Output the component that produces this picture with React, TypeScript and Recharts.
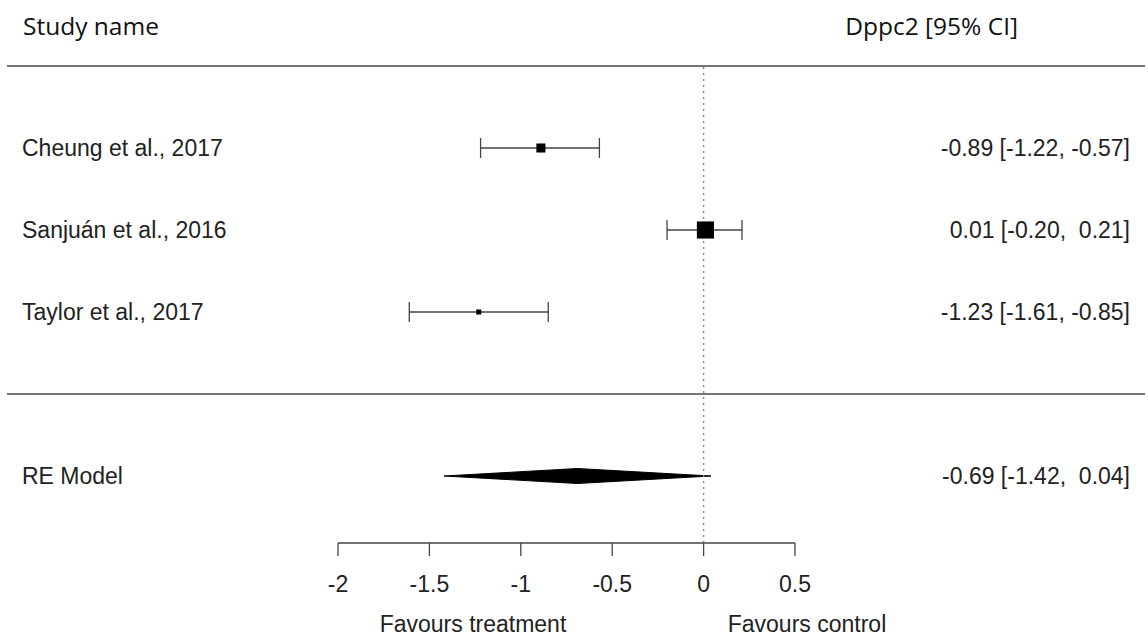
import { ComposedChart, XAxis, YAxis, Scatter, ErrorBar, Area, ReferenceLine } from "recharts";

// study rows
const studies = ["Cheung et al., 2017", "Sanjuán et al., 2016", "Taylor et al., 2017"];
const estimates = [-0.89, 0.01, -1.23];
const lower = [-1.22, -0.2, -1.61];
const upper = [-0.57, 0.21, -0.85];
const weights = [20.5, 73.2, 6.3]; // % weight, drives square size

// pooled estimate
const summaryName = "RE Model";
const summaryEst = -0.69;
const summaryLower = -1.42;
const summaryUpper = 0.04;

const xTicks = [-2, -1.5, -1, -0.5, 0, 0.5];

const FONT = '"Liberation Sans", Arial, sans-serif';
const HEAD_FONT = '"Open Sans", "Noto Sans", sans-serif';
const INK = "#222";

// layout
const W = 1148;
const H = 642;
const PLOT_TOP = 66;
const PLOT_BOTTOM = 543;
const PLOT_LEFT = 7;
const PLOT_RIGHT = 1145;
const ROW_PX = 82;
const AXIS_LEFT_PX = 338;
const AXIS_RIGHT_PX = 795;

const topRow = studies.length + 3;
const sepRow = 2;
const summaryRow = 1;
const Y_MIN = topRow - (PLOT_BOTTOM - PLOT_TOP) / ROW_PX;

const pxPerUnit = (AXIS_RIGHT_PX - AXIS_LEFT_PX) / (xTicks[xTicks.length - 1] - xTicks[0]);
const X_MIN = xTicks[0] - (AXIS_LEFT_PX - PLOT_LEFT) / pxPerUnit;
const X_MAX = xTicks[xTicks.length - 1] + (PLOT_RIGHT - AXIS_RIGHT_PX) / pxPerUnit;

const DIAMOND_HALF = 7.5 / ROW_PX;

const fmt = (v: number, pad = false) => (pad && v >= 0 ? " " : "") + v.toFixed(2);
const ciText = (e: number, l: number, u: number) => `${fmt(e)} [${fmt(l, true)}, ${fmt(u, true)}]`;

const points = studies.map((name, i) => ({
  x: estimates[i],
  y: studies.length + 2 - i,
  lo: estimates[i] - lower[i],
  hi: upper[i] - estimates[i],
  w: weights[i],
}));

const diamond = [
  { x: summaryLower, band: [summaryRow, summaryRow] },
  { x: summaryEst, band: [summaryRow - DIAMOND_HALF, summaryRow + DIAMOND_HALF] },
  { x: summaryUpper, band: [summaryRow, summaryRow] },
];

const rowTicks = [...points.map((p) => p.y), summaryRow];
const nameByRow: Record<number, string> = { [summaryRow]: summaryName };
const ciByRow: Record<number, string> = { [summaryRow]: ciText(summaryEst, summaryLower, summaryUpper) };
points.forEach((p, i) => {
  nameByRow[p.y] = studies[i];
  ciByRow[p.y] = ciText(estimates[i], lower[i], upper[i]);
});

function NameTick(props: any) {
  const { x, y, payload } = props;
  return (
    <text x={x} y={y} dy="0.355em" textAnchor="start" fill={INK} fontSize={23} fontFamily={FONT}>
      {nameByRow[payload.value]}
    </text>
  );
}

function CiTick(props: any) {
  const { x, y, payload } = props;
  return (
    <text x={x} y={y} dy="0.355em" textAnchor="end" fill={INK} fontSize={23} fontFamily={FONT} style={{ whiteSpace: "pre" }}>
      {ciByRow[payload.value]}
    </text>
  );
}

function Square(props: any) {
  const { cx, cy, payload } = props;
  const s = 2 * Math.sqrt(payload.w);
  return <rect x={cx - s / 2} y={cy - s / 2} width={s} height={s} fill="#000" />;
}

function Headers(props: any) {
  const { x, y, width } = props.viewBox;
  return (
    <g fontFamily={HEAD_FONT} fontSize={24.5} fill="#111">
      <text x={x + 16} y={y - 31}>Study name</text>
      <text x={x + width - 127} y={y - 31} textAnchor="end">Dppc2 [95% CI]</text>
    </g>
  );
}

function Favours(props: any) {
  const { x, y } = props.viewBox;
  return (
    <g fontFamily={FONT} fontSize={23} fill={INK} textAnchor="middle">
      <text x={x + 135} y={y + 89}>Favours treatment</text>
      <text x={x + 469} y={y + 89}>Favours control</text>
    </g>
  );
}

export default function App() {
  return (
    <div style={{ position: "fixed", left: 0, top: 0, width: W, height: H, background: "#fff" }}>
      <ComposedChart
        width={W}
        height={H}
        data={diamond}
        margin={{ top: PLOT_TOP, right: W - PLOT_RIGHT, bottom: 39, left: PLOT_LEFT }}
      >
        <XAxis
          type="number"
          dataKey="x"
          domain={[X_MIN, X_MAX]}
          allowDataOverflow
          ticks={xTicks}
          height={H - PLOT_BOTTOM - 39}
          axisLine={false}
          tickSize={13}
          tickMargin={20}
          tickLine={{ stroke: "#444", strokeWidth: 1.3 }}
          tick={{ fill: INK, fontSize: 23, fontFamily: FONT }}
        />
        <YAxis
          yAxisId="left"
          type="number"
          domain={[Y_MIN, topRow]}
          allowDataOverflow
          ticks={rowTicks}
          mirror
          axisLine={false}
          tickLine={false}
          tickSize={0}
          tickMargin={15}
          tick={<NameTick />}
        />
        <YAxis
          yAxisId="right"
          orientation="right"
          type="number"
          domain={[Y_MIN, topRow]}
          allowDataOverflow
          ticks={rowTicks}
          mirror
          axisLine={false}
          tickLine={false}
          tickSize={0}
          tickMargin={15}
          tick={<CiTick />}
        />

        <ReferenceLine yAxisId="left" y={topRow} stroke="#777" strokeWidth={2} label={(p: any) => <Headers {...p} />} />
        <ReferenceLine yAxisId="left" y={sepRow} stroke="#777" strokeWidth={2} />
        <ReferenceLine yAxisId="left" x={0} stroke="#8a8a8a" strokeWidth={1.5} strokeDasharray="2 4" />
        <ReferenceLine
          yAxisId="left"
          ifOverflow="visible"
          segment={[
            { x: xTicks[0], y: Y_MIN },
            { x: xTicks[xTicks.length - 1], y: Y_MIN },
          ]}
          stroke="#444"
          strokeWidth={1.3}
          label={(p: any) => <Favours {...p} />}
        />

        <Area
          yAxisId="left"
          type="linear"
          dataKey="band"
          stroke="#000"
          strokeWidth={1}
          fill="#000"
          fillOpacity={1}
          dot={false}
          activeDot={false}
          isAnimationActive={false}
        />
        <Scatter yAxisId="left" data={points} dataKey="y" shape={<Square />} isAnimationActive={false}>
          <ErrorBar
            direction="x"
            dataKey={(d: any) => [d.lo, d.hi]}
            width={10}
            stroke="#444"
            strokeWidth={1.3}
            isAnimationActive={false}
          />
        </Scatter>
      </ComposedChart>
    </div>
  );
}
